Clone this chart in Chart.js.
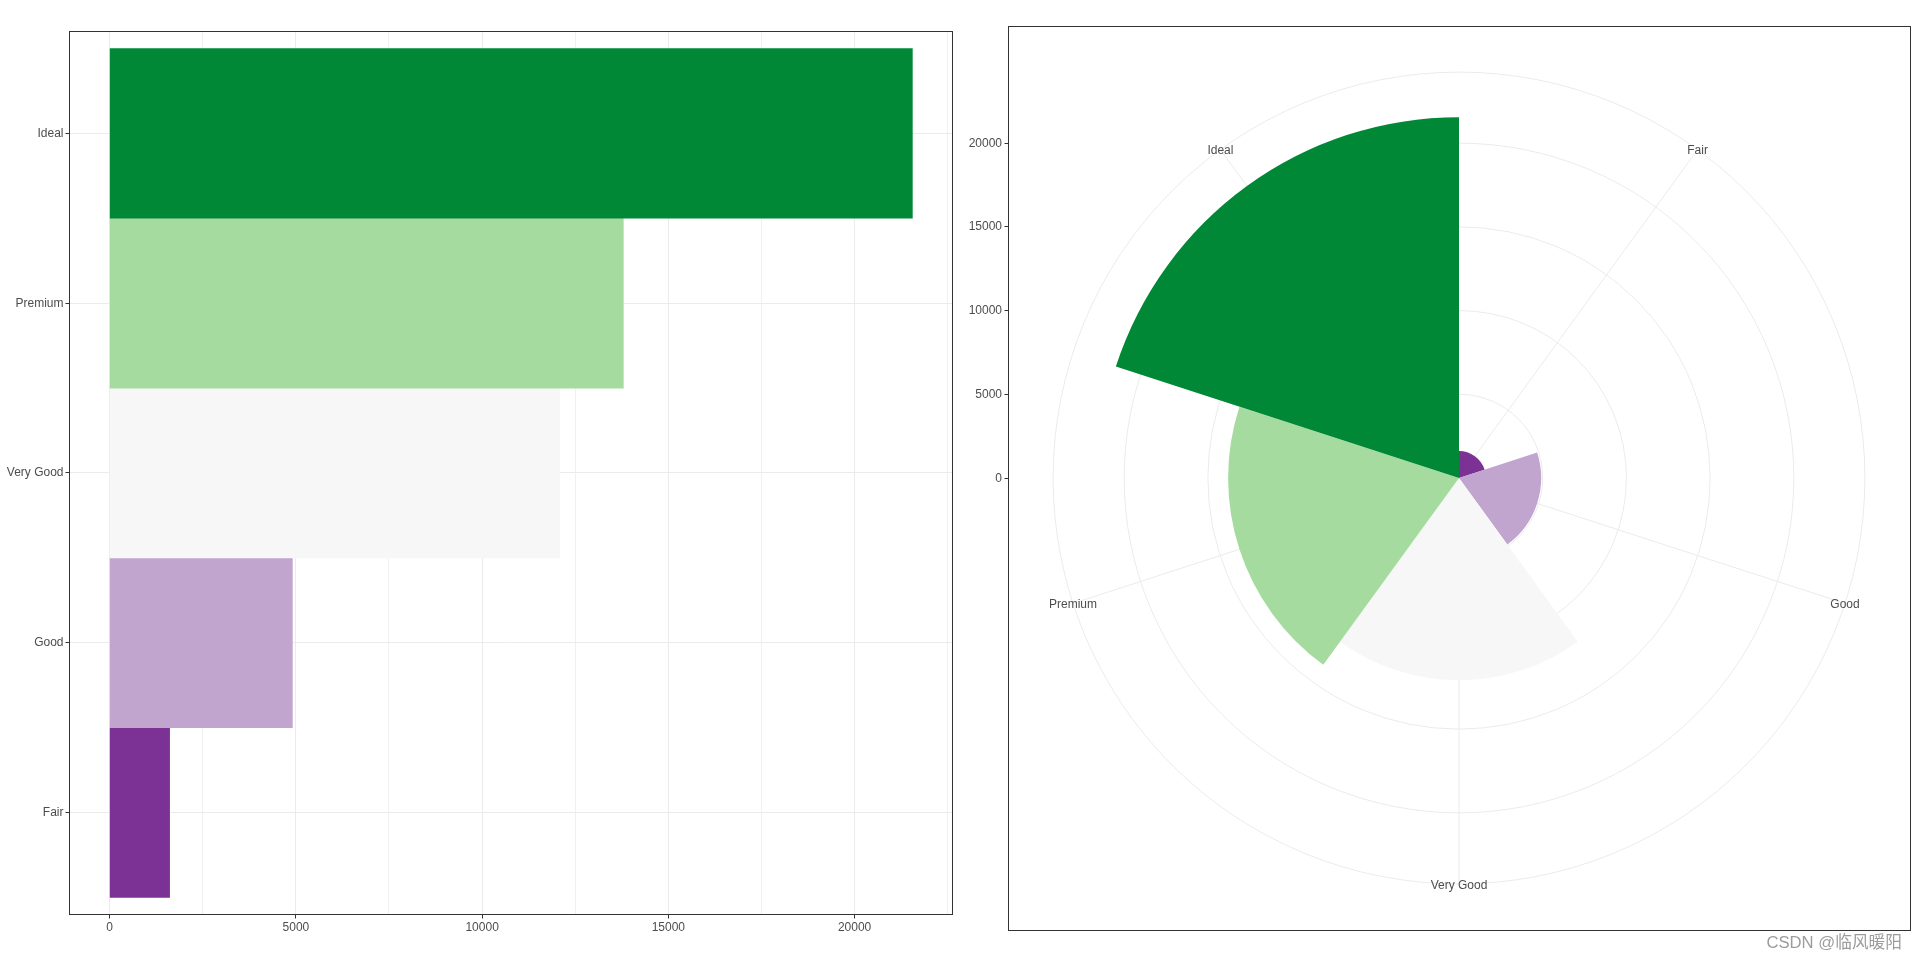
<!DOCTYPE html>
<html>
<head>
<meta charset="utf-8">
<title>diamonds by cut</title>
<script src="https://cdn.jsdelivr.net/npm/chart.js@4.4.1/dist/chart.umd.min.js"></script>
<style>
  html, body { margin: 0; padding: 0; background: #fff; }
  #wrap { position: relative; width: 1917px; height: 962px; overflow: hidden; }
  #bar { position: absolute; left: 0; top: 0; }
  #rose { position: absolute; left: 960px; top: 0; }
  #mark {
    position: absolute; right: 15px; top: 935px;
    font: 16.7px/1 "Liberation Sans", "Noto Sans CJK SC", sans-serif;
    color: #9c9c9c; white-space: nowrap;
  }
</style>
</head>
<body>
<div id="wrap">
  <canvas id="bar" width="960" height="962"></canvas>
  <canvas id="rose" width="957" height="962"></canvas>
  <div id="mark">CSDN @临风暖阳</div>
</div>
<script>
// counts of diamonds per cut
const cuts = ['Fair', 'Good', 'Very Good', 'Premium', 'Ideal'];
const counts = [1610, 4906, 12082, 13791, 21551];
const fills = ['#7B3294', '#C2A5CF', '#F7F7F7', '#A6DBA0', '#008837'];

// axis breaks
const xBreaks = [0, 5000, 10000, 15000, 20000];
const xMinorBreaks = [2500, 7500, 12500, 17500, 22500];
const rBreaks = [0, 5000, 10000, 15000, 20000];

const gridGrey = '#EBEBEB';
const minorGrey = '#F0F0F0';
const inkGrey = '#4D4D4D';
const tickDark = '#333333';
const fontFamily = '"Liberation Sans", Arial, sans-serif';

Chart.defaults.font.family = fontFamily;
Chart.defaults.font.size = 12;
Chart.defaults.color = inkGrey;

// ggplot-like expansion: 5% on the value axis, 0.6 units on the discrete one
const peak = Math.max(...counts);
const xMin = -peak * 0.05;
const xMax = peak * 1.05;
// coord_polar: data radius fills 0.4 of the panel, theta labels ring at 0.45
const outerRing = peak / 0.4 * 0.45;
const rMax = peak / 0.4 * 0.5;

const panelBorder = {
  id: 'panelBorder',
  afterDraw(chart) {
    const { ctx, chartArea: a } = chart;
    ctx.save();
    ctx.strokeStyle = tickDark;
    ctx.lineWidth = 1;
    ctx.strokeRect(a.left, a.top, a.right - a.left, a.bottom - a.top);
    ctx.restore();
  },
};

// spokes through the middle of each sector, left-hand r axis, and theta labels
const roseAxis = {
  id: 'roseAxis',
  beforeDatasetsDraw(chart) {
    const r = chart.scales.r;
    const ctx = chart.ctx;
    const edge = r.getDistanceFromCenterForValue(outerRing);
    const half = Math.PI / cuts.length;
    ctx.save();
    ctx.strokeStyle = gridGrey;
    ctx.lineWidth = 1;
    cuts.forEach((c, i) => {
      const p = r.getPointPosition(i, edge, half);
      ctx.beginPath();
      ctx.moveTo(r.xCenter, r.yCenter);
      ctx.lineTo(p.x, p.y);
      ctx.stroke();
    });
    ctx.restore();
  },
  afterDraw(chart) {
    const r = chart.scales.r;
    const { ctx, chartArea: a } = chart;
    const edge = r.getDistanceFromCenterForValue(outerRing);
    const half = Math.PI / cuts.length;
    ctx.save();
    ctx.font = '12px ' + fontFamily;
    ctx.fillStyle = inkGrey;
    ctx.textAlign = 'center';
    ctx.textBaseline = 'middle';
    cuts.forEach((c, i) => {
      const p = r.getPointPosition(i, edge, half);
      ctx.fillText(c, p.x, p.y + 1.5);
    });

    ctx.textAlign = 'right';
    ctx.strokeStyle = tickDark;
    ctx.lineWidth = 1;
    for (const v of rBreaks) {
      const y = Math.floor(r.yCenter - r.getDistanceFromCenterForValue(v)) + 0.5;
      ctx.beginPath();
      ctx.moveTo(a.left - 4, y);
      ctx.lineTo(a.left, y);
      ctx.stroke();
      ctx.fillText(String(v), a.left - 6.5, y);
    }
    ctx.restore();
  },
};

new Chart(document.getElementById('bar'), {
  type: 'bar',
  data: {
    datasets: [{
      data: cuts.map((c, i) => ({ x: counts[i], y: i + 1 })),
      backgroundColor: fills,
      borderWidth: 0,
      barPercentage: 1,
      categoryPercentage: 1,
    }],
  },
  plugins: [panelBorder],
  options: {
    indexAxis: 'y',
    responsive: false,
    animation: false,
    events: [],
    layout: { padding: { left: 0, top: 31.5, right: 7.5, bottom: 0 } },
    plugins: { legend: { display: false }, tooltip: { enabled: false } },
    scales: {
      x: {
        type: 'linear',
        min: xMin,
        max: xMax,
        afterBuildTicks: s => {
          s.ticks = [...xBreaks, ...xMinorBreaks].sort((p, q) => p - q).map(v => ({ value: v }));
        },
        afterFit: s => { s.height = 47.5; },
        grid: {
          color: c => (xBreaks.includes(c.tick.value) ? gridGrey : minorGrey),
          tickColor: c => (xBreaks.includes(c.tick.value) ? tickDark : 'rgba(0,0,0,0)'),
          tickLength: 4,
          lineWidth: 1,
        },
        border: { display: false },
        ticks: {
          padding: 2,
          autoSkip: false,
          maxRotation: 0,
          callback: v => (xBreaks.includes(v) ? String(v) : ''),
        },
      },
      y: {
        type: 'linear',
        min: 0.4,
        max: 5.6,
        offset: false,
        afterBuildTicks: s => { s.ticks = cuts.map((c, i) => ({ value: i + 1 })); },
        afterFit: s => { s.width = 69.5; },
        grid: { offset: false, color: gridGrey, tickColor: tickDark, tickLength: 4, lineWidth: 1 },
        border: { display: false },
        ticks: { padding: 2, autoSkip: false, callback: v => cuts[v - 1] },
      },
    },
  },
});

new Chart(document.getElementById('rose'), {
  type: 'polarArea',
  data: {
    labels: cuts,
    datasets: [{ data: counts, backgroundColor: fills, borderWidth: 0 }],
  },
  plugins: [roseAxis, panelBorder],
  options: {
    responsive: false,
    animation: false,
    events: [],
    layout: { padding: { left: 48.5, top: 26.5, right: 6.5, bottom: 31.5 } },
    plugins: { legend: { display: false }, tooltip: { enabled: false } },
    scales: {
      r: {
        min: 0,
        max: rMax,
        startAngle: 0,
        afterBuildTicks: s => {
          s.ticks = [...rBreaks, outerRing].map(v => ({ value: v }));
        },
        ticks: { display: false },
        pointLabels: { display: false },
        angleLines: { display: false },
        grid: { color: gridGrey, lineWidth: 1, circular: true },
      },
    },
  },
});
</script>
</body>
</html>
